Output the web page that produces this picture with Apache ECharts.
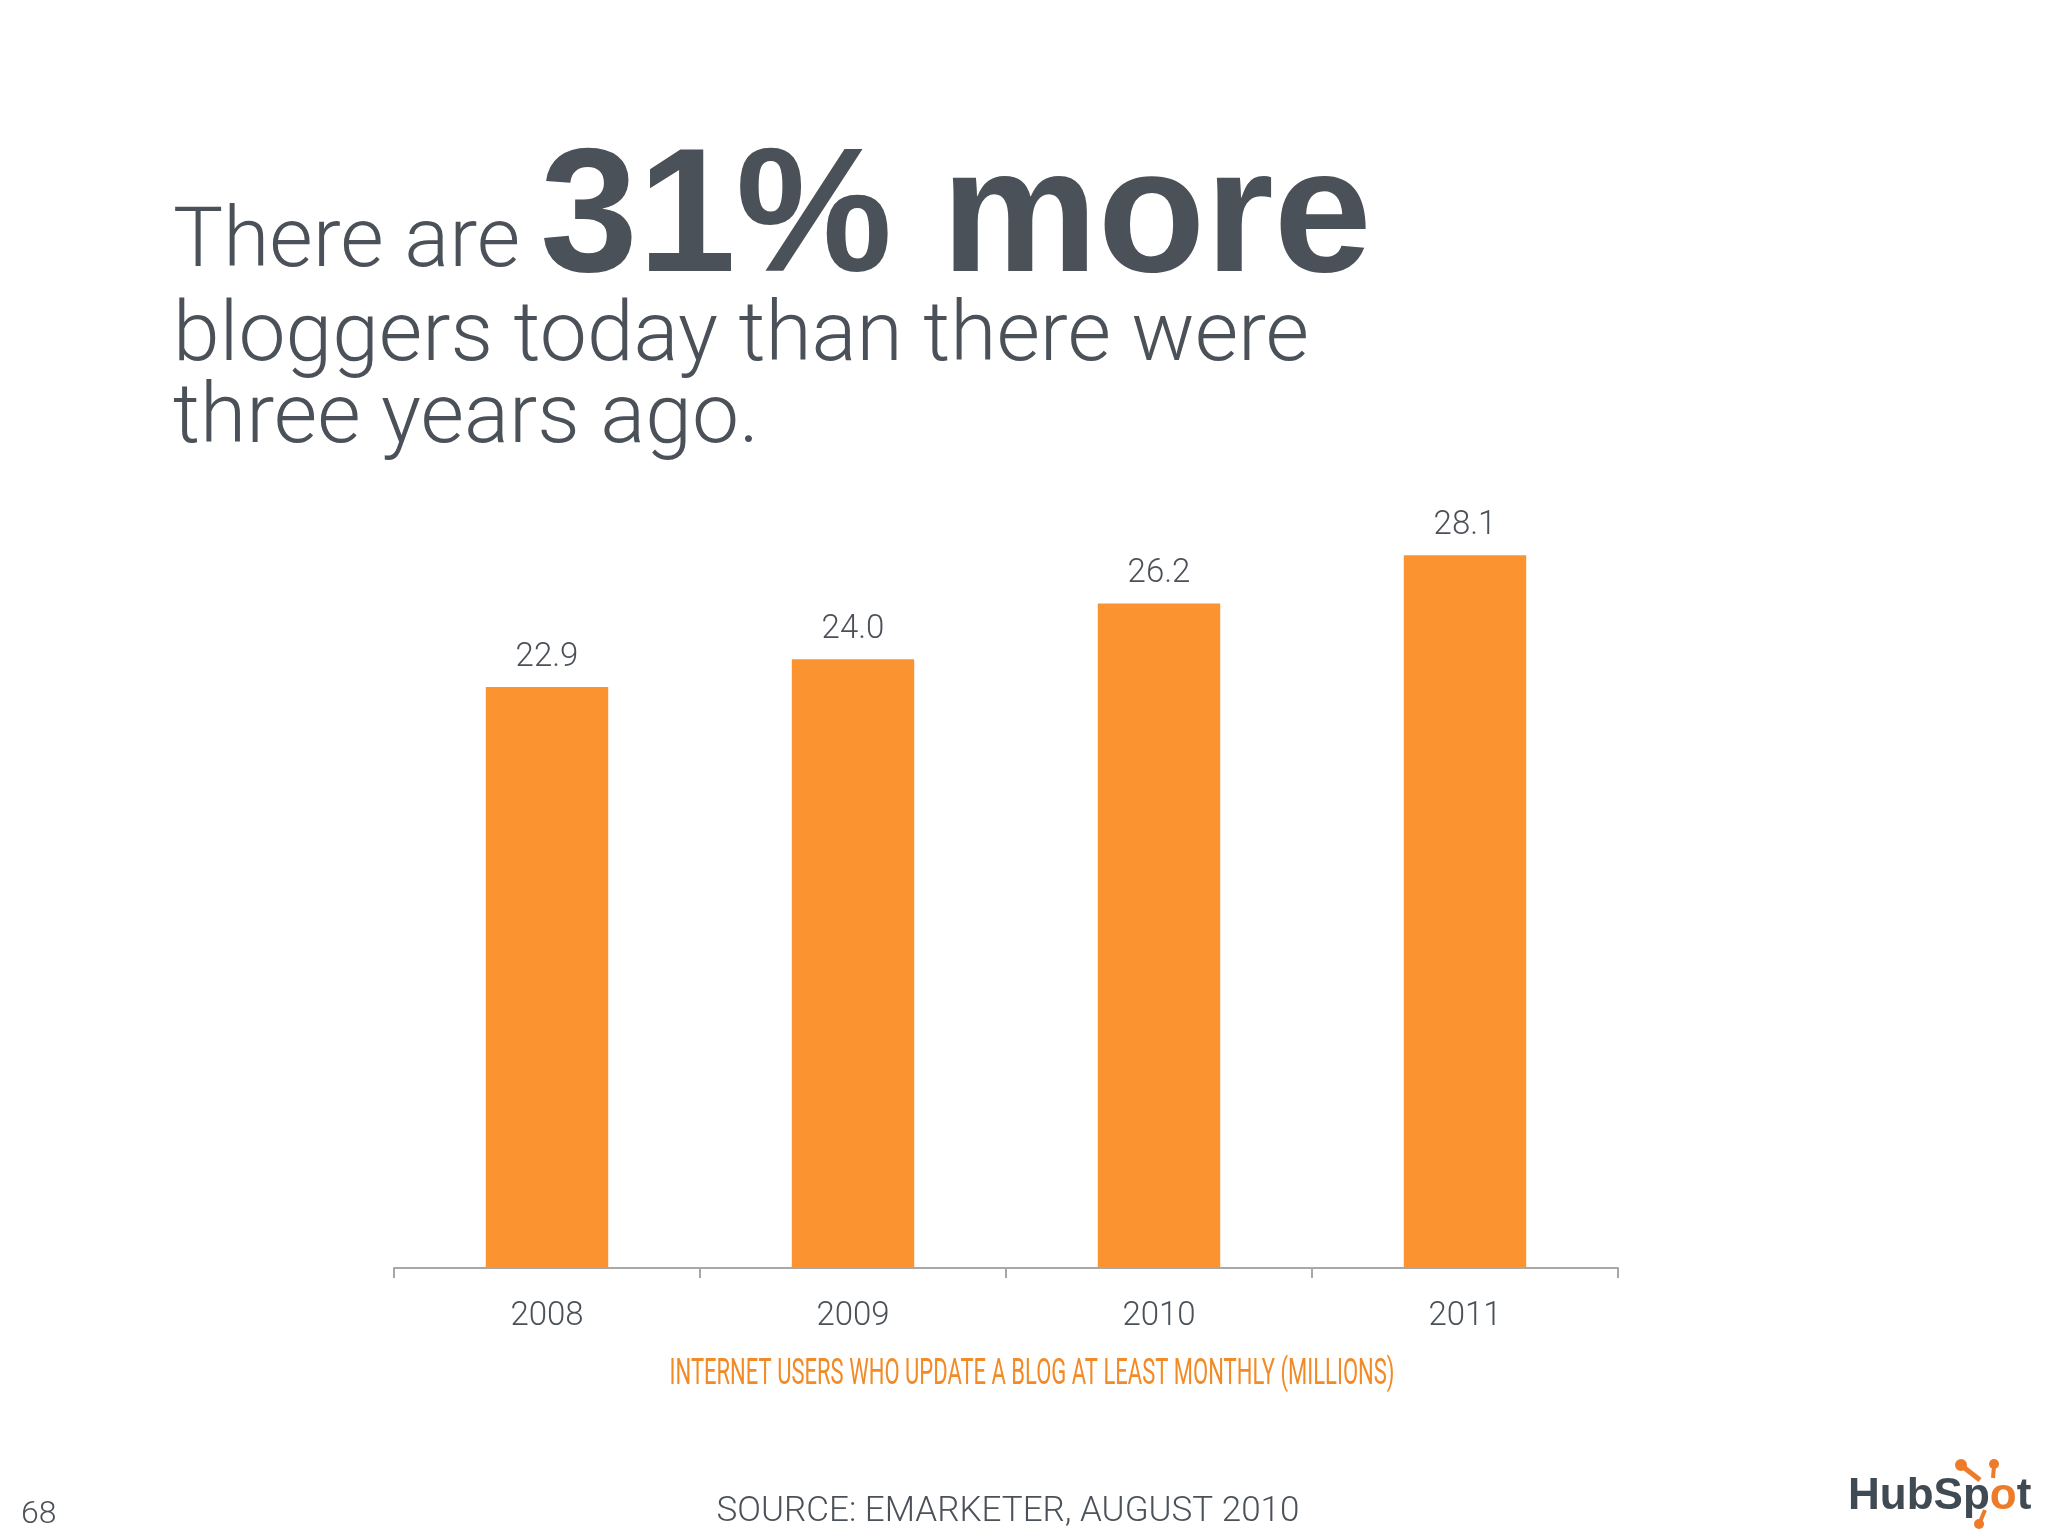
<!DOCTYPE html>
<html>
<head>
<meta charset="utf-8">
<script src="https://cdn.jsdelivr.net/npm/echarts@6/dist/echarts.min.js"></script>
<style>
html,body{margin:0;padding:0;background:#ffffff;}
#chart{width:2048px;height:1536px;}
</style>
</head>
<body>
<div id="chart"></div>
<script>
const categories = ['2008', '2009', '2010', '2011'];
const values = [22.9, 24.0, 26.2, 28.1];
const headlineLight1 = 'There are';
const headlineBold = '31% more';
const headlineLight2 = 'bloggers today than there were';
const headlineLight3 = 'three years ago.';
const axisTitle = 'INTERNET USERS WHO UPDATE A BLOG AT LEAST MONTHLY (MILLIONS)';
const sourceText = 'SOURCE: EMARKETER, AUGUST 2010';
const pageNumber = '68';

const dark = '#4b5158';
const orange = '#fc9331';
const light = 'Roboto, "Liberation Sans", sans-serif';

// condensed look for the orange axis title: measure and squeeze horizontally
const subFont = '36px Roboto, "Liberation Sans", sans-serif';
const ctx = document.createElement('canvas').getContext('2d');
ctx.font = subFont;
const subScale = 725 / ctx.measureText(axisTitle).width;

const chart = echarts.init(document.getElementById('chart'));
chart.setOption({
  backgroundColor: '#ffffff',
  animation: false,
  grid: { left: 394, right: 430, top: 507, bottom: 268 },
  xAxis: {
    type: 'category',
    data: categories,
    axisLine: { lineStyle: { color: '#a8a8a8', width: 2 } },
    axisTick: { show: true, length: 10, lineStyle: { color: '#a8a8a8', width: 2 } },
    axisLabel: { color: dark, fontFamily: light, fontWeight: 300, fontSize: 33, margin: 32 }
  },
  yAxis: {
    type: 'value', min: 0, max: 30, show: false,
    splitLine: { show: false }
  },
  series: [{
    type: 'bar',
    data: values,
    barWidth: '40%',
    itemStyle: { color: orange },
    label: {
      show: true, position: 'top', distance: 13,
      color: dark, fontFamily: light, fontWeight: 300, fontSize: 33,
      formatter: p => p.value.toFixed(1)
    }
  }],
  graphic: [
    { type: 'text', x: 173, y: 245, style: { text: headlineLight1, font: '300 84px ' + light, fill: dark, verticalAlign: 'middle' } },
    { type: 'text', x: 540, y: 222, style: { text: headlineBold, font: 'bold 176px "Liberation Sans", Arial, sans-serif', fill: dark, verticalAlign: 'middle' } },
    { type: 'text', x: 173, y: 339, style: { text: headlineLight2, font: '300 84px ' + light, fill: dark, verticalAlign: 'middle' } },
    { type: 'text', x: 173, y: 421, style: { text: headlineLight3, font: '300 84px ' + light, fill: dark, verticalAlign: 'middle' } },
    { type: 'text', x: 1032, y: 1375, scaleX: subScale, style: { text: axisTitle, font: subFont, fill: '#f28a26', align: 'center', verticalAlign: 'middle' } },
    { type: 'text', x: 1008, y: 1512, style: { text: sourceText, font: '300 35px ' + light, fill: dark, align: 'center', verticalAlign: 'middle' } },
    { type: 'text', x: 21, y: 1515, style: { text: pageNumber, font: '300 32px ' + light, fill: dark, verticalAlign: 'middle' } },
    { type: 'text', x: 1848, y: 1497, style: { text: '{d|HubSp}{o|o}{d|t}', fill: '#3f4a53', verticalAlign: 'middle',
      rich: { d: { font: 'bold 44px "Liberation Sans", sans-serif', fill: '#3f4a53' }, o: { font: 'bold 44px "Liberation Sans", sans-serif', fill: '#ee7b2a' } } } },
    { type: 'line', shape: { x1: 1980, y1: 1480, x2: 1962, y2: 1466 }, style: { stroke: '#ee7b2a', lineWidth: 5 } },
    { type: 'circle', shape: { cx: 1961, cy: 1465, r: 6 }, style: { fill: '#ee7b2a' } },
    { type: 'line', shape: { x1: 1993, y1: 1478, x2: 1994, y2: 1466 }, style: { stroke: '#ee7b2a', lineWidth: 4 } },
    { type: 'circle', shape: { cx: 1994, cy: 1464, r: 5 }, style: { fill: '#ee7b2a' } },
    { type: 'line', shape: { x1: 1985, y1: 1510, x2: 1980, y2: 1522 }, style: { stroke: '#ee7b2a', lineWidth: 4 } },
    { type: 'circle', shape: { cx: 1979, cy: 1524, r: 5 }, style: { fill: '#ee7b2a' } }
  ]
});
</script>
</body>
</html>
